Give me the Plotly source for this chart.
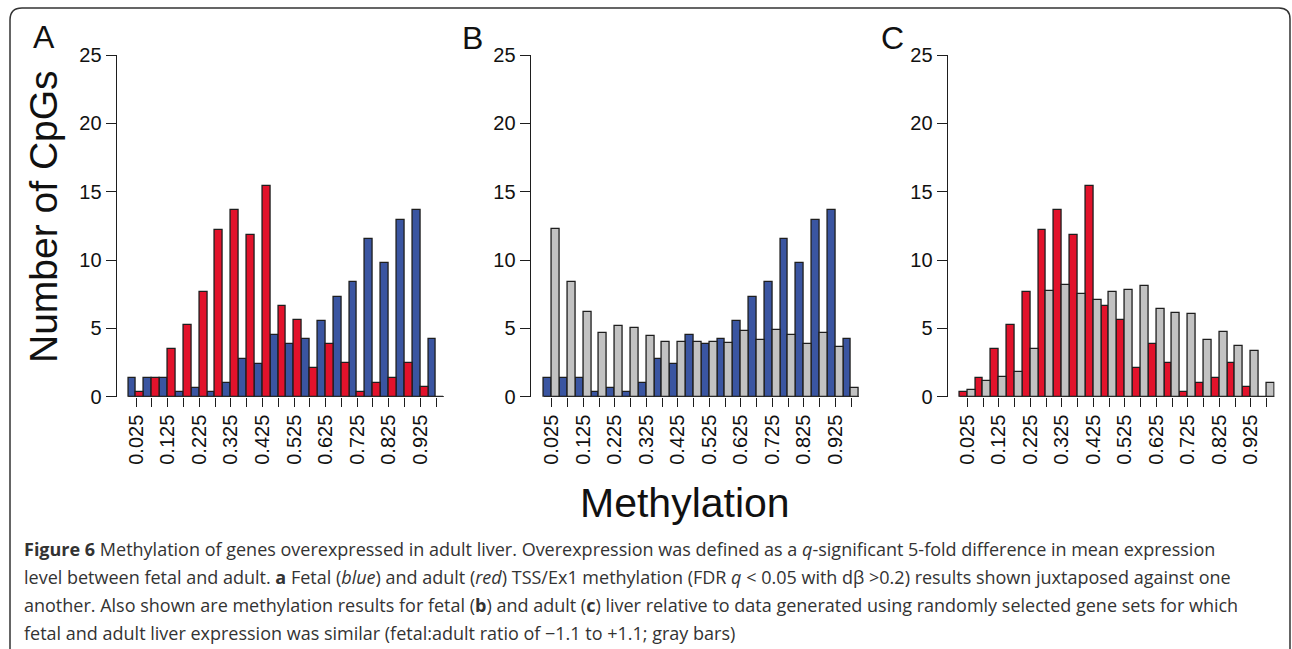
import plotly.graph_objects as go

W, H = 1292, 649

# ---------------- data ----------------
bin_centers = [0.025, 0.075, 0.125, 0.175, 0.225, 0.275, 0.325, 0.375, 0.425, 0.475,
               0.525, 0.575, 0.625, 0.675, 0.725, 0.775, 0.825, 0.875, 0.925, 0.975]
tick_labels = ["0.025", "", "0.125", "", "0.225", "", "0.325", "", "0.425", "",
               "0.525", "", "0.625", "", "0.725", "", "0.825", "", "0.925", ""]
y_ticks = [0, 5, 10, 15, 20, 25]

fetal_blue = [1.38, 1.35, 1.35, 0.33, 0.67, 0.33, 1.02, 2.78, 2.42, 4.55,
              3.83, 4.19, 5.57, 7.33, 8.37, 11.52, 9.76, 12.91, 13.64, 4.19]
adult_red = [0.35, 1.37, 3.47, 5.24, 7.67, 12.2, 13.63, 11.86, 15.38, 6.63,
             5.59, 2.08, 3.84, 2.44, 0.35, 1.03, 1.39, 2.45, 0.69, 0.0]
gray_fetal = [12.24, 8.39, 6.2, 4.66, 5.17, 5.0, 4.41, 4.0, 4.0, 4.0,
              3.98, 3.9, 4.8, 4.12, 4.85, 4.49, 3.88, 4.63, 3.63, 0.63]
gray_adult = [0.51, 1.12, 1.46, 1.78, 3.49, 7.73, 8.17, 7.49, 7.07, 7.68,
              7.83, 8.1, 6.39, 6.15, 6.02, 4.17, 4.73, 3.73, 3.34, 0.98]

BLUE = "#3A55A1"
RED = "#E2122B"
GRAY = "#C2C2C2"
EDGE = "#1e1e1e"
FONT = "Liberation Sans"

# ---------------- geometry (pixels) ----------------
y0_px, y25_px = 396.7, 55.0
panels = [  # (y-axis line px, x=0 px, x=1 px)
    (116.7, 128.3, 444.0),
    (530.7, 544.0, 859.0),
    (947.7, 959.5, 1274.5),
]

fig = go.Figure()

series = [
    (fetal_blue, BLUE, adult_red, RED),
    (fetal_blue, BLUE, gray_fetal, GRAY),
    (adult_red, RED, gray_adult, GRAY),
]

for i, (s1, c1, s2, c2) in enumerate(series):
    xa = "x" if i == 0 else f"x{i+1}"
    ya = "y" if i == 0 else f"y{i+1}"
    for s, c in ((s1, c1), (s2, c2)):
        fig.add_trace(go.Bar(
            x=bin_centers, y=s, xaxis=xa, yaxis=ya,
            marker=dict(color=c, line=dict(color=EDGE, width=1.3)),
            showlegend=False, hoverinfo="skip"))

layout = {}
ydom = [1 - y0_px / H, 1 - y25_px / H]
for i, (axpx, x0px, x1px) in enumerate(panels):
    suf = "" if i == 0 else str(i + 1)
    ppu = (x1px - x0px)
    xmin = -(x0px - axpx) / ppu
    layout[f"xaxis{suf}"] = dict(
        domain=[axpx / W, x1px / W], range=[xmin, 1.0],
        anchor=f"y{suf}", showline=False, showgrid=False, zeroline=False,
        automargin=False,
        tickmode="array", tickvals=bin_centers, ticktext=tick_labels,
        ticks="outside", ticklen=9, tickwidth=1.3, tickcolor=EDGE,
        tickangle=-90, tickfont=dict(family=FONT, size=20, color="#111"),
        fixedrange=True)
    layout[f"yaxis{suf}"] = dict(
        domain=ydom, range=[0, 25], anchor=f"x{suf}",
        showline=True, linecolor=EDGE, linewidth=1.3,
        showgrid=False, zeroline=False, automargin=False,
        tickmode="array", tickvals=y_ticks,
        ticks="outside", ticklen=10, tickwidth=1.3, tickcolor=EDGE,
        tickfont=dict(family=FONT, size=20, color="#111"),
        fixedrange=True)

fig.update_layout(**layout)

shapes = []
# baseline of each histogram
for i in range(3):
    suf = "" if i == 0 else str(i + 1)
    shapes.append(dict(type="line", xref=f"x{suf}", yref=f"y{suf}",
                       x0=0, x1=1, y0=0, y1=0,
                       line=dict(color=EDGE, width=1.3), layer="above"))


def px(x, y):
    return f"{x / W:.5f},{1 - y / H:.5f}"


border = (f"M {px(10, 652)} L {px(10, 20)} Q {px(10, 8)} {px(22, 8)} "
          f"L {px(1279, 8)} Q {px(1290, 8)} {px(1290, 19)} L {px(1290, 652)}")
shapes.append(dict(type="path", xref="paper", yref="paper", path=border,
                   line=dict(color="#333", width=1.5)))

annotations = []
for letter, cx, cy in (("A", 44, 37), ("B", 472, 37.5), ("C", 892.5, 38)):
    annotations.append(dict(text=letter, x=cx / W, y=1 - cy / H, xref="paper", yref="paper",
                            xanchor="center", yanchor="middle", showarrow=False,
                            font=dict(family=FONT, size=32, color="#111")))

annotations.append(dict(text="Number of CpGs", x=43 / W, y=1 - 217 / H,
                        xref="paper", yref="paper", textangle=-90,
                        xanchor="center", yanchor="middle", showarrow=False,
                        font=dict(family=FONT, size=39, color="#111")))
annotations.append(dict(text="Methylation", x=685 / W, y=1 - 503 / H,
                        xref="paper", yref="paper",
                        xanchor="center", yanchor="middle", showarrow=False,
                        font=dict(family=FONT, size=41, color="#111")))

caption_lines = [
    "<b>Figure 6</b> Methylation of genes overexpressed in adult liver. Overexpression was defined as a "
    "<i>q</i>-significant 5-fold difference in mean expression",
    "level between fetal and adult. <b>a</b> Fetal (<i>blue</i>) and adult (<i>red</i>) TSS/Ex1 methylation "
    "(FDR <i>q</i> &lt; 0.05 with dβ &gt;0.2) results shown juxtaposed against one",
    "another. Also shown are methylation results for fetal (<b>b</b>) and adult (<b>c</b>) liver relative "
    "to data generated using randomly selected gene sets for which",
    "fetal and adult liver expression was similar (fetal:adult ratio of −1.1 to +1.1; gray bars)",
]
for k, line in enumerate(caption_lines):
    annotations.append(dict(text=line, x=22 / W, y=1 - (549 + 28 * k) / H,
                            xref="paper", yref="paper",
                            xanchor="left", yanchor="middle", showarrow=False,
                            font=dict(family="Open Sans", size=18, color="#333")))

fig.update_layout(
    width=W, height=H, autosize=False,
    margin=dict(l=0, r=0, t=0, b=0, pad=0, autoexpand=False),
    paper_bgcolor="white", plot_bgcolor="white",
    barmode="group", bargap=0, bargroupgap=0,
    shapes=shapes, annotations=annotations,
    showlegend=False,
)

fig.write_html("out.html", config={"displayModeBar": False})
